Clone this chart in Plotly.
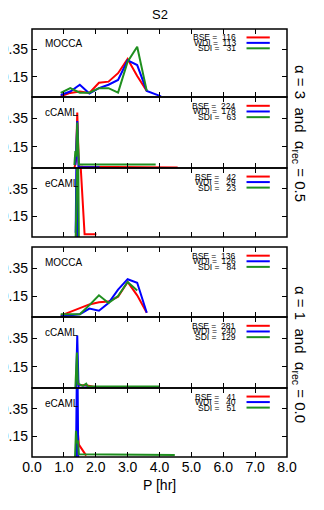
import plotly.graph_objects as go

# ---- alpha = 3, alpha_rec = 0.5 ----
mocca3_p = [0.9, 1.2, 1.5, 1.8, 2.1, 2.4, 2.7, 3.0, 3.3, 3.6, 4.05]
mocca3_bse = [0.005, 0.03, 0.04, 0.03, 0.105, 0.113, 0.175, 0.28, 0.155, 0.045, None]
mocca3_wdi = [0.015, 0.04, 0.09, 0.025, 0.065, 0.09, 0.125, 0.27, 0.235, 0.045, 0.005]
mocca3_sdi = [0.03, 0.065, 0.032, 0.032, 0.065, 0.065, 0.032, 0.26, 0.37, 0.045, None]

ccaml3_bse_p = [1.33, 1.38, 1.42, 1.47, 1.6, 2.0, 3.0, 4.0, 4.57]
ccaml3_bse = [0.0, 0.05, 0.39, 0.01, 0.008, 0.008, 0.006, 0.006, 0.004]
ccaml3_wdi_p = [1.36, 1.38, 1.42, 1.46, 2.12]
ccaml3_wdi = [0.02, 0.08, 0.33, 0.005, 0.005]
ccaml3_sdi_p = [1.33, 1.36, 1.39, 1.42, 1.47, 2.0, 3.0, 3.88]
ccaml3_sdi = [0.02, 0.12, 0.08, 0.32, 0.025, 0.025, 0.025, 0.025]

ecaml3_bse_p = [1.38, 1.43, 1.65, 2.02]
ecaml3_bse = [0.0, 0.9, 0.02, 0.02]
ecaml3_wdi_p = [1.37, 1.40, 1.43]
ecaml3_wdi = [0.03, 0.7, 0.0]
ecaml3_sdi_p = [1.37, 1.40, 1.44, 1.47]
ecaml3_sdi = [0.0, 0.3, 0.8, 0.0]

# ---- alpha = 1, alpha_rec = 0.0 ----
mocca1_p = [0.9, 1.2, 1.5, 1.8, 2.1, 2.4, 2.7, 3.0, 3.3, 3.6]
mocca1_bse = [0.01, 0.035, 0.06, 0.09, 0.105, 0.11, 0.145, 0.25, 0.155, 0.03]
mocca1_wdi = [0.005, 0.015, 0.02, 0.06, 0.045, 0.1, 0.195, 0.27, 0.245, 0.03]
mocca1_sdi = [0.02, 0.02, 0.02, 0.085, 0.155, 0.1, 0.15, 0.25, 0.19, None]

ccaml1_bse_p = [1.38, 1.42, 1.46, 1.7, 2.0]
ccaml1_bse = [0.0, 0.12, 0.02, 0.02, 0.005]
ccaml1_wdi_p = [1.38, 1.42, 1.46, 1.8]
ccaml1_wdi = [0.0, 0.37, 0.0, 0.005]
ccaml1_sdi_p = [1.36, 1.39, 1.41, 1.44, 1.6, 1.7, 1.75, 4.0]
ccaml1_sdi = [0.0, 0.15, 0.25, 0.03, 0.015, 0.03, 0.01, 0.01]

ecaml1_bse_p = [1.40, 1.43, 1.47, 1.67, 1.7]
ecaml1_bse = [0.0, 0.2, 0.09, 0.02, 0.01]
ecaml1_wdi_p = [1.38, 1.42, 1.45]
ecaml1_wdi = [0.0, 0.9, 0.0]
ecaml1_sdi_p = [1.35, 1.38, 1.41, 1.44, 1.47, 4.48]
ecaml1_sdi = [0.0, 0.19, 0.1, 0.12, 0.02, 0.015]

panel_names = ["MOCCA", "cCAML", "eCAML", "MOCCA", "cCAML", "eCAML"]
counts = [(116, 113, 31), (224, 178, 63), (42, 29, 23),
          (136, 126, 84), (281, 240, 129), (41, 40, 51)]
series_names = ["BSE", "WDI", "SDI"]
colors = ["#ff0000", "#0000ff", "#1f8f1f"]

panels = [
    [(mocca3_p, mocca3_bse), (mocca3_p, mocca3_wdi), (mocca3_p, mocca3_sdi)],
    [(ccaml3_bse_p, ccaml3_bse), (ccaml3_wdi_p, ccaml3_wdi), (ccaml3_sdi_p, ccaml3_sdi)],
    [(ecaml3_bse_p, ecaml3_bse), (ecaml3_wdi_p, ecaml3_wdi), (ecaml3_sdi_p, ecaml3_sdi)],
    [(mocca1_p, mocca1_bse), (mocca1_p, mocca1_wdi), (mocca1_p, mocca1_sdi)],
    [(ccaml1_bse_p, ccaml1_bse), (ccaml1_wdi_p, ccaml1_wdi), (ccaml1_sdi_p, ccaml1_sdi)],
    [(ecaml1_bse_p, ecaml1_bse), (ecaml1_wdi_p, ecaml1_wdi), (ecaml1_sdi_p, ecaml1_sdi)],
]

# the page puts the figure 8px in from the top-left corner, so shrink it by that much
OFF = 8
W, H = 324 - OFF, 510 - OFF
plot_l, plot_r, plot_t, plot_b = 32, 287, 29, 457   # page pixels
ml, mt = plot_l - OFF, plot_t - OFF
mr, mb = W - (plot_r - OFF), H - (plot_b - OFF)
ph = plot_b - plot_t
edges = [(29, 97), (97, 168), (168, 237), (247, 317), (317, 388), (388, 457)]

FONT = "Liberation Sans"
fig = go.Figure()
annotations = []
shapes = []

for i, (series, name, cnt) in enumerate(zip(panels, panel_names, counts)):
    k = "" if i == 0 else str(i + 1)
    xa, ya = f"x{k}", f"y{k}"
    for (px, py), sname, col in zip(series, series_names, colors):
        fig.add_trace(go.Scatter(x=px, y=py, mode="lines", xaxis=xa, yaxis=ya,
                                 line=dict(color=col, width=2), showlegend=False))
    top, bot = edges[i]
    dom = [(plot_b - bot) / ph, (plot_b - top) / ph]
    fig.update_layout({
        f"xaxis{k}": dict(domain=[0, 1], anchor=ya, range=[0, 8], dtick=1, tickformat=".1f",
                          ticks="inside", ticklen=5, showline=False, mirror="ticks",
                          tickcolor="black", tickwidth=1.2,
                          showgrid=False, zeroline=False, automargin=False,
                          showticklabels=(i == 5), tickfont=dict(size=14, color="black")),
        f"yaxis{k}": dict(domain=dom, anchor=xa, range=[0, 0.5], tickvals=[0.15, 0.35],
                          tickformat=".2f", ticks="inside", ticklen=5, showline=False,
                          mirror="ticks", tickcolor="black", tickwidth=1.2,
                          showgrid=False, zeroline=False, ticklabelstandoff=3,
                          automargin=False, tickfont=dict(size=14, color="black")),
    })
    # panel frame
    shapes.append(dict(type="rect", xref=f"{xa} domain", yref=f"{ya} domain",
                       x0=0, x1=1, y0=0, y1=1, line=dict(color="black", width=1.5)))
    annotations.append(dict(text=name, x=0.33, y=0.391, xref=xa, yref=ya, showarrow=False,
                            xanchor="left", yanchor="middle",
                            font=dict(family=FONT, size=10, color="black")))
    for j, (sname, col, n) in enumerate(zip(series_names, colors, cnt)):
        yv = 0.438 - j * 0.04
        annotations.append(dict(text=f"{sname} = {n:>4}".replace(" ", "\u00a0"),
                                x=6.45, y=yv, xref=xa, yref=ya, showarrow=False,
                                xanchor="right", yanchor="middle",
                                font=dict(family=FONT, size=8.5, color="black")))
        shapes.append(dict(type="line", xref=xa, yref=ya, x0=6.73, x1=7.46, y0=yv, y1=yv,
                           line=dict(color=col, width=2)))

sp = "\u00a0\u00a0"
annotations += [
    dict(text="S2", x=0.5, y=1, xref="paper", yref="paper", yshift=15, showarrow=False,
         xanchor="center", yanchor="middle",
         font=dict(family=FONT, size=13, color="black")),
    dict(text="P [hr]", x=0.5, y=0, xref="paper", yref="paper", yshift=-28, showarrow=False,
         xanchor="center", yanchor="middle",
         font=dict(family=FONT, size=14, color="black")),
    dict(text=f"α = 3{sp}and{sp}α<sub>rec</sub> = 0.5", textangle=90,
         x=1, y=(plot_b - 133) / ph, xref="paper", yref="paper", xshift=13,
         xanchor="center", yanchor="middle",
         showarrow=False, font=dict(family=FONT, size=15, color="black")),
    dict(text=f"α = 1{sp}and{sp}α<sub>rec</sub> = 0.0", textangle=90,
         x=1, y=(plot_b - 354) / ph, xref="paper", yref="paper", xshift=13,
         xanchor="center", yanchor="middle",
         showarrow=False, font=dict(family=FONT, size=15, color="black")),
]

fig.update_layout(
    width=W, height=H, margin=dict(l=ml, r=mr, t=mt, b=mb, autoexpand=False),
    paper_bgcolor="white", plot_bgcolor="white",
    font=dict(family=FONT, size=14, color="black"),
    annotations=annotations, shapes=shapes, showlegend=False,
)
fig.write_html("out.html")
